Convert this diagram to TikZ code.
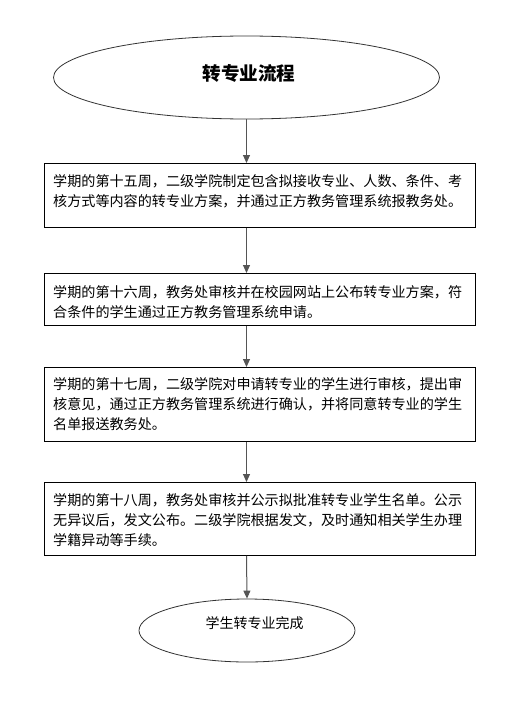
\documentclass[tikz,border=0pt]{standalone}
\usepackage{fontspec}
\newfontfamily\cjk{Noto Sans CJK SC}
\usetikzlibrary{shapes.geometric,arrows.meta}
\definecolor{linegray}{HTML}{555555}
\begin{document}
\begin{tikzpicture}[x=1pt,y=-1pt,
  stepbox/.style={draw=black,line width=0.9pt,rectangle,minimum width=431pt,inner sep=0pt,anchor=north west},
  endshape/.style={draw=black!80,line width=0.8pt,ellipse,inner sep=0pt},
  boxtext/.style={anchor=north west,inner sep=0pt,align=left,font=\cjk\fontsize{14.1pt}{20pt}\selectfont},
  flow/.style={draw=linegray,line width=1pt,-{Triangle[length=8pt,width=7pt]}}]
\useasboundingbox[fill=white] (0,0) rectangle (514,701);
% start ellipse
\node[endshape,minimum width=386pt,minimum height=83pt] (e1) at (246.5,77.5) {};
\node[font=\cjk\bfseries\fontsize{18.6pt}{22pt}\selectfont,inner sep=0pt] (t1) at (249,73) {转专业流程};
% boxes
\node[stepbox,minimum height=64pt] (b1) at (44,163) {};
\node[stepbox,minimum height=52pt] (b2) at (44,273) {};
\node[stepbox,minimum height=74pt] (b3) at (44,367) {};
\node[stepbox,minimum height=73pt] (b4) at (44,482) {};
\node[boxtext] (x1) at (53,174) {学期的第十五周，二级学院制定包含拟接收专业、人数、条件、考\\核方式等内容的转专业方案，并通过正方教务管理系统报教务处。};
\node[boxtext] (x2) at (53,285) {学期的第十六周，教务处审核并在校园网站上公布转专业方案，符\\合条件的学生通过正方教务管理系统申请。};
\node[boxtext] (x3) at (53,377) {学期的第十七周，二级学院对申请转专业的学生进行审核，提出审\\核意见，通过正方教务管理系统进行确认，并将同意转专业的学生\\名单报送教务处。};
\node[boxtext] (x4) at (53,493) {学期的第十八周，教务处审核并公示拟批准转专业学生名单。公示\\无异议后，发文公布。二级学院根据发文，及时通知相关学生办理\\学籍异动等手续。};
% end ellipse
\node[endshape,minimum width=216pt,minimum height=63pt] (e2) at (247,630.5) {};
\node[font=\cjk\fontsize{14pt}{18pt}\selectfont,inner sep=0pt] (t2) at (254.5,623) {学生转专业完成};
% connectors
\draw[flow] (e1.south) -- (e1.south |- b1.north);
\draw[flow] (e1.south |- b1.south) -- (e1.south |- b2.north);
\draw[flow] (e1.south |- b2.south) -- (e1.south |- b3.north);
\draw[flow] (e1.south |- b3.south) -- (e1.south |- b4.north);
\draw[flow] (e1.south |- b4.south) -- (e2.north);
\end{tikzpicture}
\end{document}
